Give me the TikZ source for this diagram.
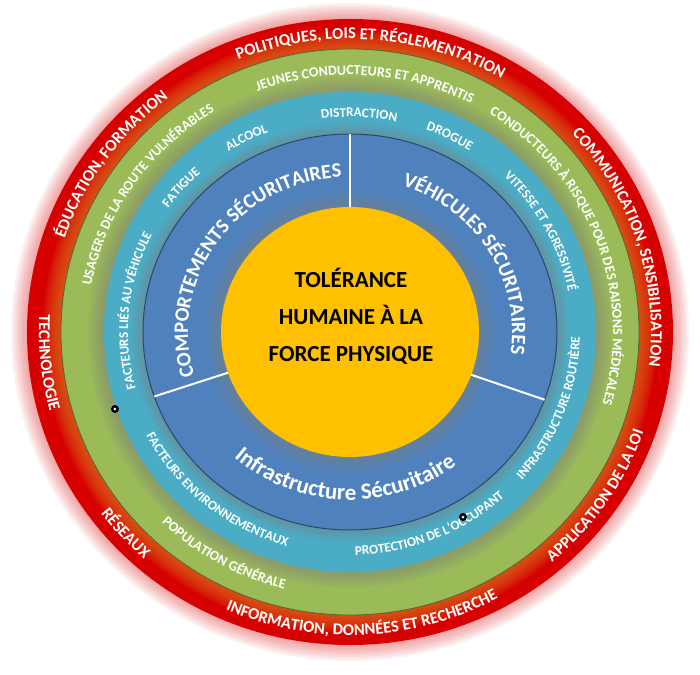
\documentclass[tikz,border=0pt]{standalone}
\usepackage{fontspec}
\setmainfont{Carlito}
\usetikzlibrary{decorations.text}
\definecolor{ringred}{RGB}{215,0,0}
\definecolor{ringorange}{RGB}{215,110,30}
\definecolor{ringgreen}{RGB}{155,187,89}
\definecolor{ringcyan}{RGB}{75,172,198}
\definecolor{ringblue}{RGB}{79,129,189}
\definecolor{coreyellow}{RGB}{255,192,0}
\newcommand{\fred}{\fontsize{16.5}{16.5}\selectfont\bfseries}
\newcommand{\fgreen}{\fontsize{14}{14}\selectfont\bfseries}
\newcommand{\fcyan}{\fontsize{13.3}{13.3}\selectfont\bfseries}
\newcommand{\fblue}{\fontsize{20.5}{20.5}\selectfont\bfseries}
% #1 x radius, #2 y radius, #3 centre angle, #4 font, #5 text
\newcommand{\cwtext}[5]{{#4%
  \path[ringtext,decoration={text={#5}}] (#3+80:#1 and #2) arc[start angle=#3+80,end angle=#3-80,x radius=#1,y radius=#2];}}
\newcommand{\ccwtext}[5]{{#4%
  \path[ringtext,decoration={text={#5}}] (#3-80:#1 and #2) arc[start angle=#3-80,end angle=#3+80,x radius=#1,y radius=#2];}}
\begin{document}
\begin{tikzpicture}[x=1pt,y=1pt,
  ringtext/.style={decorate,decoration={text along path,text align=center,text color=white}},
  divider/.style={white,line width=2pt}]
\useasboundingbox (-350,-342) rectangle (350,332);
\foreach \i in {1,...,8}
  \fill[ringred,opacity=0.05] (0,0) ellipse[x radius=323+2*\i,y radius=313+2*\i];
\fill[ringred] (0,0) ellipse[x radius=323,y radius=313];
\foreach \i in {1,...,9}
  \fill[ringorange,opacity=0.13] (0,0) ellipse[x radius=289+2*\i,y radius=283+2*\i];
\fill[ringgreen] (0,0) ellipse[x radius=289,y radius=283];
\draw[ringgreen!55!black,line width=0.8pt] (0,0) ellipse[x radius=289,y radius=283];
\foreach \i in {1,...,8}
  \fill[gray,opacity=0.08] (0,0) ellipse[x radius=246+2*\i,y radius=240+2*\i];
\fill[ringcyan] (0,0) ellipse[x radius=246,y radius=240];
\foreach \i in {1,...,8}
  \fill[gray,opacity=0.07] (0,0) ellipse[x radius=207+1.5*\i,y radius=198+1.5*\i];
\fill[ringblue] (0,0) ellipse[x radius=207,y radius=198];
\draw[ringblue!55!black,line width=1pt] (0,0) ellipse[x radius=207,y radius=198];
\foreach \i in {1,...,8}
  \fill[gray,opacity=0.08] (0,0) ellipse[x radius=129+2*\i,y radius=125+2*\i];
\fill[coreyellow] (0,0) ellipse[x radius=129,y radius=125];
\foreach \a in {90,199,340}
  \draw[divider] (\a:129 and 125) -- (\a:207 and 198);
\cwtext{301}{293}{85.7}{\fred}{POLITIQUES, LOIS ET RÉGLEMENTATION}
\cwtext{301}{293}{17.6}{\fred}{COMMUNICATION, SENSIBILISATION}
\ccwtext{311}{303}{-33.7}{\fred}{APPLICATION DE LA LOI}
\ccwtext{311}{303}{272.5}{\fred}{INFORMATION, DONNÉES ET RECHERCHE}
\ccwtext{311}{303}{222}{\fred}{RÉSEAUX}
\ccwtext{311}{303}{185.8}{\fred}{TECHNOLOGIE}
\cwtext{301}{293}{144.9}{\fred}{ÉDUCATION, FORMATION}
\cwtext{263}{257}{86.5}{\fgreen}{JEUNES CONDUCTEURS ET APPRENTIS}
\cwtext{263}{257}{20.6}{\fgreen}{CONDUCTEURS À RISQUE POUR DES RAISONS MÉDICALES}
\ccwtext{271}{265}{240.5}{\fgreen}{POPULATION GÉNÉRALE}
\cwtext{263}{257}{145.8}{\fgreen}{USAGERS DE LA ROUTE VULNÉRABLES}
\cwtext{222}{215}{87.6}{\fcyan}{DISTRACTION}
\cwtext{222}{215}{118.1}{\fcyan}{ALCOOL}
\cwtext{222}{215}{63}{\fcyan}{DROGUE}
\cwtext{222}{215}{27.8}{\fcyan}{VITESSE ET AGRESSIVITÉ}
\ccwtext{230}{223}{-20.9}{\fcyan}{INFRASTRUCTURE ROUTIÈRE}
\ccwtext{230}{223}{292.3}{\fcyan}{PROTECTION DE L’OCCUPANT}
\ccwtext{230}{223}{230.1}{\fcyan}{FACTEURS ENVIRONNEMENTAUX}
\cwtext{222}{215}{174.3}{\fcyan}{FACTEURS LIÉS AU VÉHICULE}
\cwtext{222}{215}{139.4}{\fcyan}{FATIGUE}
\cwtext{162}{155}{145.1}{\fblue}{COMPORTEMENTS SÉCURITAIRES}
\cwtext{162}{155}{31}{\fblue}{VÉHICULES SÉCURITAIRES}
\ccwtext{174}{168}{268}{\fontsize{23}{23}\selectfont\bfseries}{Infrastructure Sécuritaire}
\node[font=\fontsize{23}{37}\selectfont\bfseries,align=center,text=black] (core) at (1,16) {TOLÉRANCE\\HUMAINE À LA\\FORCE PHYSIQUE};
\fill[black] (-235,-77) circle[radius=4];
\fill[white] (-235,-77) circle[radius=1.5];
\fill[black] (113,-185) circle[radius=4];
\fill[white] (113,-185) circle[radius=1.5];
\end{tikzpicture}
\end{document}
